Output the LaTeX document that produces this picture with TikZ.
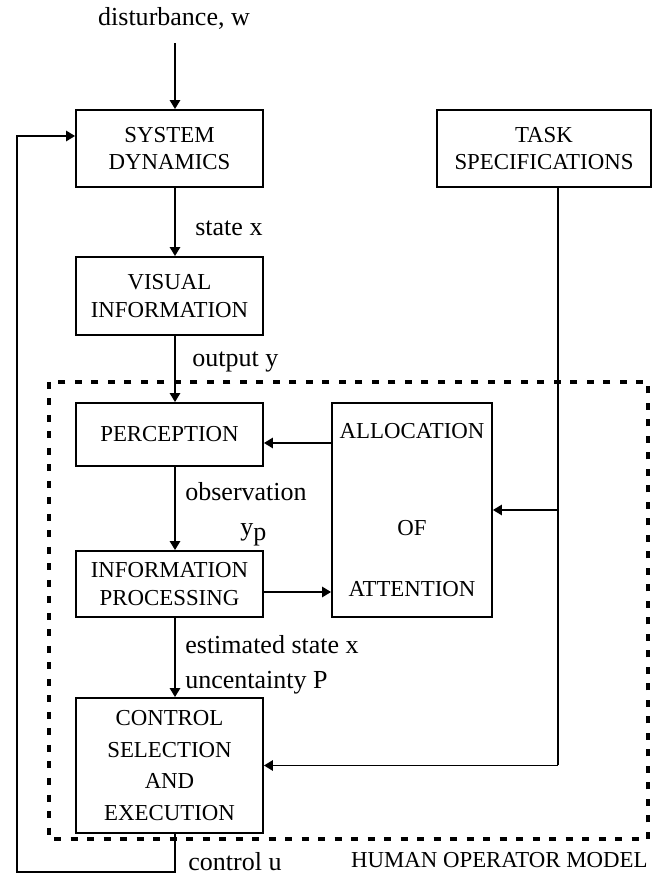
\documentclass[tikz,border=0pt]{standalone}
\usepackage{fontspec}
\setmainfont{Liberation Serif}
\usetikzlibrary{arrows.meta,positioning}

\tikzset{
  block/.style={draw, line width=1.1pt, minimum width=3.74cm, inner sep=0pt,
    align=center, font=\fontsize{13}{15.5}\selectfont},
  signal/.style={font=\fontsize{14.8}{16}\selectfont, anchor=west, inner sep=0pt},
  flow/.style={line width=0.9pt, -{Triangle[length=1.8mm,width=2.1mm]}},
  wire/.style={line width=0.9pt},
  hom/.style={line width=1.8pt, dash pattern=on 0.14cm off 0.19cm},
}

\begin{document}
\begin{tikzpicture}
\useasboundingbox (0,0) rectangle (13.04,17.52);
\coordinate (col) at (3.5,0);
\coordinate (tap) at (11.16,0);
\coordinate (fb) at (0.34,0.08);
% plant and display
\node[block, minimum height=1.54cm] (sys) at (3.39,14.55) {SYSTEM\\DYNAMICS};
\node[block, minimum height=1.56cm] (vis) at (3.39,11.60) {VISUAL\\INFORMATION};
\node[block, minimum width=4.28cm, minimum height=1.54cm] (task) at (10.88,14.55) {TASK\\SPECIFICATIONS};
% operator
\node[block, minimum height=1.26cm] (perc) at (3.39,8.83) {PERCEPTION};
\node[block, minimum height=1.32cm] (info) at (3.39,5.84) {INFORMATION\\PROCESSING};
\node[block, minimum height=2.70cm, font=\fontsize{13}{18}\selectfont] (ctrl) at (3.39,2.21) {CONTROL\\SELECTION\\AND\\EXECUTION};
\node[block, minimum width=3.20cm, minimum height=4.28cm] (alloc) at (8.24,7.32) {ALLOCATION\\[39.5pt]OF\\[19.5pt]ATTENTION};
\draw[hom] (0.98,9.88) rectangle (12.96,0.74);
\node[signal, anchor=east, font=\fontsize{13}{14}\selectfont] (hom) at (12.96,0.32) {HUMAN OPERATOR MODEL};
% signals
\node[signal, anchor=center] (dist) at (3.48,17.16) {disturbance, w};
\node[signal] (xlab) at (3.9,12.96) {state x};
\node[signal] (ylab) at (3.84,10.28) {output y};
\node[signal] (obs) at (3.70,7.68) {observation};
\node[signal] (yp) at (4.8,6.82) {y\raisebox{-0.45ex}{p}};
\node[signal] (est) at (3.70,4.62) {estimated state x};
\node[signal] (unc) at (3.70,3.86) {uncentainty P};
\node[signal] (ulab) at (3.76,0.28) {control u};
\draw[flow] ([yshift=-0.28cm]dist.south -| col) -- (sys.north -| col);
\draw[flow] (sys.south -| col) -- (vis.north -| col);
\draw[flow] (vis.south -| col) -- (perc.north -| col);
\draw[flow] (perc.south -| col) -- (info.north -| col);
\draw[flow] (info.south -| col) -- (ctrl.north -| col);
\draw[flow] ([yshift=-0.17cm]perc.east -| alloc.west) -- ([yshift=-0.17cm]perc.east);
\draw[flow] ([yshift=-0.16cm]info.east) -- ([yshift=-0.16cm]info.east -| alloc.west);
% task demands
\draw[wire] (task.south -| tap) -- (ctrl.east -| tap);
\draw[flow] (alloc.east -| tap) -- (alloc.east);
\draw[flow] (ctrl.east -| tap) -- (ctrl.east);
% control back to the plant
\draw[flow] (ctrl.south -| col) |- (fb) |- ([yshift=0.25cm]sys.west);
\end{tikzpicture}
\end{document}
